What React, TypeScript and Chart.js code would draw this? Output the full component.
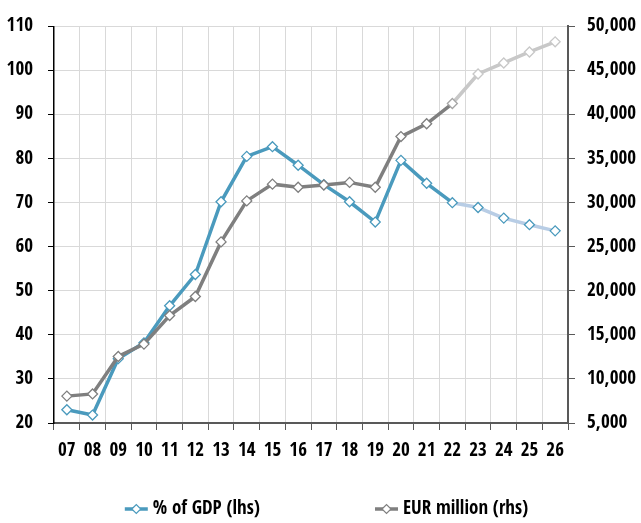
import React, { useEffect, useRef } from 'react';
import { Chart, registerables } from 'chart.js';

Chart.register(...registerables);

// ---- data ----
const categories = ['07', '08', '09', '10', '11', '12', '13', '14', '15', '16', '17', '18', '19', '20', '21', '22', '23', '24', '25', '26'];
const gdpPct = [23.0, 21.8, 34.6, 38.2, 46.6, 53.7, 70.2, 80.5, 82.7, 78.5, 74.1, 70.2, 65.6, 79.6, 74.4, 70.0, 68.9, 66.5, 65.0, 63.6];
const eurMillion = [8050, 8300, 12550, 13950, 17200, 19350, 25550, 30200, 32100, 31750, 32000, 32300, 31750, 37500, 38950, 41250, 44600, 45850, 47100, 48250];
const leftTicks = [20, 30, 40, 50, 60, 70, 80, 90, 100, 110];
const rightTicks = [5000, 10000, 15000, 20000, 25000, 30000, 35000, 40000, 45000, 50000];
const seriesLabels = ['% of GDP (lhs)', 'EUR million (rhs)'];
const forecastFrom = '22';

// ---- styles ----
const FONT = "'Open Sans Condensed', 'Roboto Condensed', sans-serif";
const BLUE = '#4A9ABD';
const BLUE_LIGHT = '#B8CDE5';
const GRAY = '#7F7F7F';
const GRAY_LIGHT = '#C8C8C8';
const GRID = '#D9D9D9';
const AXIS = '#595959';

const FC = categories.indexOf(forecastFrom);

const legendPlugin = {
  id: 'customLegend',
  afterDraw(chart: any) {
    const ctx = chart.ctx as CanvasRenderingContext2D;
    ctx.save();
    ctx.font = `bold 19px ${FONT}`;
    ctx.textBaseline = 'middle';
    ctx.textAlign = 'left';
    const ds = chart.data.datasets;
    const symW = 23;
    const gapT = 5;
    const gapItem = 115;
    const widths = ds.map((d: any) => ctx.measureText(d.label).width);
    const total = widths.reduce((a: number, b: number) => a + b, 0) + ds.length * (symW + gapT) + gapItem * (ds.length - 1);
    let x = chart.width / 2 + 6 - total / 2;
    const y = 509;
    ds.forEach((d: any, i: number) => {
      ctx.strokeStyle = d.borderColor;
      ctx.lineWidth = 3.5;
      ctx.beginPath();
      ctx.moveTo(x, y);
      ctx.lineTo(x + symW, y);
      ctx.stroke();
      const cx = x + symW / 2;
      const r = 4.5;
      ctx.beginPath();
      ctx.moveTo(cx - r, y);
      ctx.lineTo(cx, y - r);
      ctx.lineTo(cx + r, y);
      ctx.lineTo(cx, y + r);
      ctx.closePath();
      ctx.fillStyle = '#fff';
      ctx.fill();
      ctx.lineWidth = 1.2;
      ctx.stroke();
      ctx.fillStyle = '#000';
      ctx.fillText(d.label, x + symW + gapT, y);
      x += symW + gapT + widths[i] + gapItem;
    });
    ctx.restore();
  },
};

export default function App() {
  const ref = useRef<HTMLCanvasElement | null>(null);

  useEffect(() => {
    if (!ref.current) return;
    const tickFont = { family: FONT, size: 19, weight: 'bold' as const };
    const chart = new Chart(ref.current, {
      type: 'line',
      data: {
        labels: categories,
        datasets: [
          {
            label: seriesLabels[0],
            data: gdpPct,
            yAxisID: 'yL',
            borderColor: BLUE,
            borderWidth: 3.5,
            segment: { borderColor: (c: any) => (c.p0DataIndex >= FC ? BLUE_LIGHT : BLUE) },
            pointStyle: 'rectRot',
            pointRadius: 5,
            pointBorderWidth: 1.3,
            pointBackgroundColor: '#ffffff',
            pointBorderColor: BLUE,
            tension: 0,
            order: 2,
          },
          {
            label: seriesLabels[1],
            data: eurMillion,
            yAxisID: 'yR',
            borderColor: GRAY,
            borderWidth: 3.5,
            segment: { borderColor: (c: any) => (c.p0DataIndex >= FC ? GRAY_LIGHT : GRAY) },
            pointStyle: 'rectRot',
            pointRadius: 5,
            pointBorderWidth: 1.3,
            pointBackgroundColor: '#ffffff',
            pointBorderColor: categories.map((_, i) => (i > FC ? GRAY_LIGHT : i === FC ? '#A6A6A6' : GRAY)),
            tension: 0,
            order: 1,
          },
        ],
      },
      options: {
        responsive: false,
        animation: false,
        layout: { padding: { top: 18, bottom: 28, left: 0, right: 0 } },
        plugins: {
          legend: { display: false },
          tooltip: { enabled: false },
        },
        scales: {
          x: {
            type: 'category',
            offset: true,
            grid: { offset: true, color: GRID, tickColor: AXIS, tickLength: 7, lineWidth: 1 },
            border: { color: AXIS, width: 2 },
            ticks: { font: tickFont, color: '#000', padding: 10, maxRotation: 0, autoSkip: false },
            afterFit: (s: any) => { s.height = 72; },
          },
          yL: {
            position: 'left',
            min: leftTicks[0],
            max: leftTicks[leftTicks.length - 1],
            ticks: { stepSize: leftTicks[1] - leftTicks[0], font: tickFont, color: '#000', padding: 15 },
            grid: { color: GRID, tickColor: '#000', tickLength: 6 },
            border: { color: '#000', width: 1.5 },
            afterFit: (s: any) => { s.width = 54; },
          },
          yR: {
            position: 'right',
            min: rightTicks[0],
            max: rightTicks[rightTicks.length - 1],
            ticks: {
              stepSize: rightTicks[1] - rightTicks[0],
              font: tickFont,
              color: '#000',
              padding: 12,
              callback: (v: any) => Number(v).toLocaleString('en-US'),
            },
            grid: { drawOnChartArea: false, tickColor: AXIS, tickLength: 7 },
            border: { color: AXIS, width: 2 },
            afterFit: (s: any) => { s.width = 73; },
          },
        },
      },
      plugins: [legendPlugin],
    });
    return () => chart.destroy();
  }, []);

  return (
    <div style={{ position: 'fixed', left: 0, top: 0, width: 641, height: 523, background: '#fff' }}>
      <canvas ref={ref} width={641} height={523} style={{ display: 'block' }} />
    </div>
  );
}
